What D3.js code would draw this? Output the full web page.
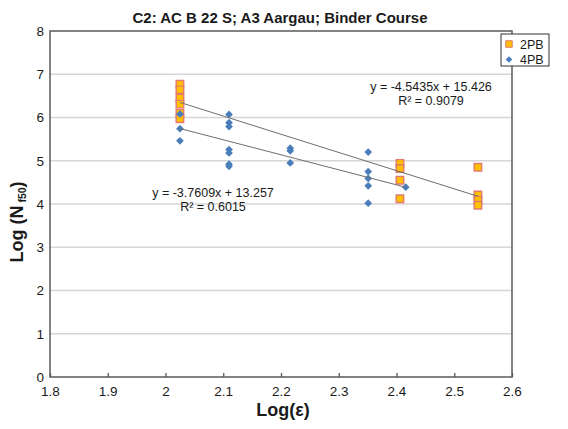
<!DOCTYPE html>
<html>
<head>
  <meta charset="utf-8">
  <title>C2 fatigue chart</title>
  <script src="https://cdn.jsdelivr.net/npm/d3@7"></script>
  <style type="text/css">
    body { margin: 0; background: #fff; }
    #chartArea { width: 568px; height: 429px; }
    text { font-family: "Liberation Sans", Arial, sans-serif; fill: #1a1a1a; }
  </style>
</head>
<body>
  <div id="chartArea"></div>
  <script type="text/javascript">
    // values (x as on the printed axis)
    let x2PB = [2.025, 2.025, 2.025, 2.025, 2.025, 2.025, 2.406, 2.406, 2.406, 2.406, 2.541, 2.541, 2.541, 2.541];
    let y2PB = [6.77, 6.64, 6.45, 6.31, 6.10, 5.97, 4.94, 4.82, 4.55, 4.12, 4.85, 4.21, 4.09, 3.97];

    let x4PB = [2.025, 2.025, 2.025, 2.110, 2.110, 2.110, 2.110, 2.110, 2.110, 2.110,
      2.216, 2.216, 2.216, 2.351, 2.351, 2.351, 2.351, 2.351, 2.416];
    let y4PB = [6.08, 5.74, 5.46, 6.07, 5.88, 5.79, 5.26, 5.18, 4.92, 4.87,
      5.29, 5.23, 4.95, 5.20, 4.75, 4.59, 4.42, 4.02, 4.39];

    let xTicks = [1.8, 1.9, 2, 2.1, 2.2, 2.3, 2.4, 2.5, 2.6];
    let yTicks = [0, 1, 2, 3, 4, 5, 6, 7, 8];
    let seriesNames = ['2PB', '4PB'];
    let eq2PB = ['y = -4.5435x + 15.426', 'R\u00B2 = 0.9079'];
    let eq4PB = ['y = -3.7609x + 13.257', 'R\u00B2 = 0.6015'];

    let margin = { top: 31, right: 56, bottom: 52, left: 50 };
    let W = 568, H = 429;
    let w = W - margin.left - margin.right;
    let h = H - margin.top - margin.bottom;

    let xScale = d3.scaleLinear().domain([1.8, 2.6]).range([0, w]);
    let yScale = d3.scaleLinear().domain([0, 8]).range([h, 0]);

    let svg = d3.select('#chartArea').append('svg')
      .attr('width', W)
      .attr('height', H);

    let g = svg.append('g')
      .attr('transform', `translate(${margin.left}, ${margin.top})`);

    // horizontal gridlines
    g.selectAll('.grid')
      .data(yTicks.slice(1, -1))
      .enter()
      .append('line')
      .attr('x1', 0).attr('x2', w)
      .attr('y1', d => yScale(d)).attr('y2', d => yScale(d))
      .attr('stroke', '#d6d6d6')
      .attr('stroke-width', 1.5);

    // x axis, ticks pointing inward
    let xAxis = g.append('g')
      .attr('transform', `translate(0, ${h})`)
      .call(d3.axisBottom(xScale).tickValues(xTicks).tickSize(-4).tickPadding(9).tickFormat(d => String(d)));
    xAxis.select('.domain').remove();
    xAxis.selectAll('line').attr('stroke', '#555').attr('stroke-width', 1.3);
    xAxis.selectAll('text').style('font-size', '13.5px').attr('fill', '#1a1a1a');

    let yAxis = g.append('g')
      .call(d3.axisLeft(yScale).tickValues(yTicks).tickSize(0).tickPadding(6).tickFormat(d => String(d)));
    yAxis.select('.domain').remove();
    yAxis.selectAll('text').style('font-size', '13.5px').attr('fill', '#1a1a1a');

    // plot frame
    g.append('rect')
      .attr('width', w).attr('height', h)
      .attr('fill', 'none')
      .attr('stroke', '#5a5a5a')
      .attr('stroke-width', 1.5);

    // least squares trend line over the series' x range
    function fit(xs, ys) {
      let mx = d3.mean(xs), my = d3.mean(ys);
      let sxy = d3.sum(xs, (x, i) => (x - mx) * (ys[i] - my));
      let sxx = d3.sum(xs, x => (x - mx) * (x - mx));
      let b = sxy / sxx;
      let a = my - b * mx;
      let ext = d3.extent(xs);
      return ext.map(x => [x, a + b * x]);
    }

    let line = d3.line().x(d => xScale(d[0])).y(d => yScale(d[1]));

    // 2PB squares
    g.selectAll('.p2')
      .data(x2PB.map((x, i) => [x, y2PB[i]]))
      .enter()
      .append('path')
      .attr('d', d3.symbol(d3.symbolSquare, 56))
      .attr('transform', d => `translate(${xScale(d[0])}, ${yScale(d[1])})`)
      .attr('fill', '#ffc000')
      .attr('stroke', '#e27a6e')
      .attr('stroke-width', 1.4);

    // 4PB diamonds
    g.selectAll('.p4')
      .data(x4PB.map((x, i) => [x, y4PB[i]]))
      .enter()
      .append('path')
      .attr('d', d3.symbol(d3.symbolSquare, 30))
      .attr('transform', d => `translate(${xScale(d[0])}, ${yScale(d[1])}) rotate(45)`)
      .attr('fill', '#4a7ebb');

    g.append('path')
      .attr('d', line(fit(x2PB, y2PB)))
      .attr('stroke', '#6e6e6e').attr('stroke-width', 1).attr('fill', 'none');
    g.append('path')
      .attr('d', line(fit(x4PB, y4PB)))
      .attr('stroke', '#6e6e6e').attr('stroke-width', 1).attr('fill', 'none');

    // trend equations
    let eqText = (lines, cx, y0) => {
      svg.append('g').selectAll('text')
        .data(lines)
        .enter()
        .append('text')
        .attr('x', cx)
        .attr('y', (d, i) => y0 + i * 14)
        .attr('text-anchor', 'middle')
        .style('font-size', '12.5px')
        .text(d => d);
    };
    eqText(eq2PB, 431, 91);
    eqText(eq4PB, 213, 197);

    // title
    svg.append('text')
      .attr('x', 280).attr('y', 23)
      .attr('text-anchor', 'middle')
      .style('font-size', '15px')
      .style('font-weight', 'bold')
      .text('C2: AC B 22 S; A3 Aargau; Binder Course');

    // axis titles
    svg.append('text')
      .attr('x', 283).attr('y', 416)
      .attr('text-anchor', 'middle')
      .style('font-size', '18px')
      .style('font-weight', 'bold')
      .text('Log(\u03B5)');

    let yTitle = svg.append('text')
      .attr('transform', 'translate(23, 222) rotate(-90)')
      .attr('text-anchor', 'middle')
      .style('font-size', '18px')
      .style('font-weight', 'bold');
    yTitle.append('tspan').text('Log (N');
    yTitle.append('tspan').attr('dx', 3).attr('dy', 3).style('font-size', '10.5px').text('f50');
    yTitle.append('tspan').attr('dy', -3).text(')');

    // legend
    let lg = svg.append('g').attr('transform', 'translate(501, 34)');
    lg.append('rect')
      .attr('width', 48).attr('height', 32)
      .attr('fill', '#fff')
      .attr('stroke', '#333')
      .attr('stroke-width', 1);
    let items = lg.selectAll('.item')
      .data(seriesNames)
      .enter()
      .append('g')
      .attr('transform', (d, i) => `translate(8, ${10 + i * 15.5})`);
    items.append('path')
      .attr('d', (d, i) => d3.symbol(d3.symbolSquare, i === 0 ? 42 : 22)())
      .attr('transform', (d, i) => i === 0 ? '' : 'rotate(45)')
      .attr('fill', (d, i) => i === 0 ? '#ffc000' : '#4a7ebb')
      .attr('stroke', (d, i) => i === 0 ? '#e27a6e' : 'none')
      .attr('stroke-width', 1);
    items.append('text')
      .attr('x', 11).attr('y', 4.5)
      .style('font-size', '12.5px')
      .text(d => d);
  </script>
</body>
</html>
